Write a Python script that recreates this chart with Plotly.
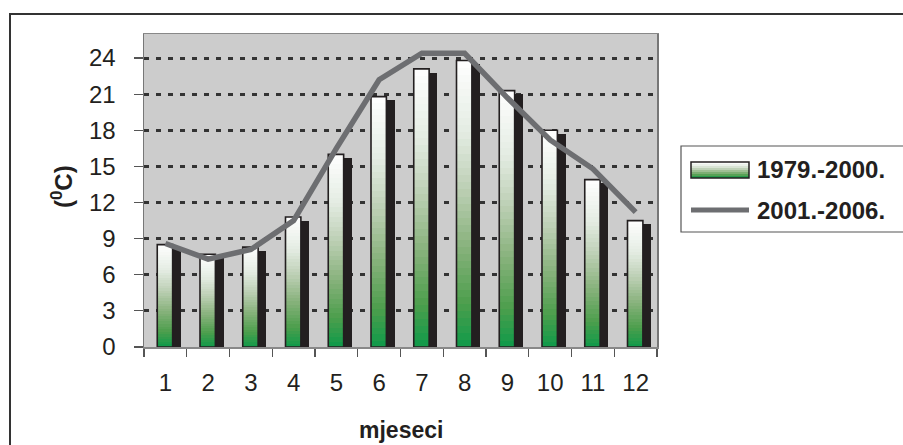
import plotly.graph_objects as go
from plotly.colors import sample_colorscale

# ---- data ----
months = ["1", "2", "3", "4", "5", "6", "7", "8", "9", "10", "11", "12"]
t_1979_2000 = [8.5, 7.7, 8.3, 10.8, 16.0, 20.8, 23.1, 23.8, 21.3, 18.0, 13.9, 10.5]
t_2001_2006 = [8.6, 7.3, 8.1, 10.5, 16.5, 22.2, 24.4, 24.4, 20.7, 17.2, 14.8, 11.2]
y_ticks = [0, 3, 6, 9, 12, 15, 18, 21, 24]
series_names = ["1979.-2000.", "2001.-2006."]
x_title = "mjeseci"
y_title = "(<sup>0</sup>C)"

# ---- style ----
FONT = "Liberation Sans, Arial, sans-serif"
TXT = "#231f20"
GRAD = [[0.0, "#0e9a4a"], [0.15, "#4c9e4c"], [0.35, "#88b27c"],
        [0.55, "#bccfb4"], [0.75, "#e4ece3"], [1.0, "#ffffff"]]
N_LAYERS = 40
FRONT_OFF, FRONT_W = -0.19, 0.36
SHADOW_OFF, SHADOW_W = -0.02, 0.38
SHADOW_DROP = 0.3
SHADOW_BASE = -0.12

L, R, T, B = 144, 657, 34, 347
W, H = 903, 445


def px(x):
    return (x - L) / (R - L)


def py(y):
    return (B - y) / (B - T)


fig = go.Figure()

# shadow bars
fig.add_trace(go.Bar(
    x=months, y=[v - SHADOW_DROP - SHADOW_BASE for v in t_1979_2000], base=SHADOW_BASE,
    offset=SHADOW_OFF, width=SHADOW_W,
    marker=dict(color="#231f20", line=dict(width=0)), showlegend=False, hoverinfo="skip"))

# gradient layers of front bars
layer_cols = sample_colorscale(GRAD, [(k + 0.5) / N_LAYERS for k in range(N_LAYERS)])
for k in range(N_LAYERS):
    fig.add_trace(go.Bar(
        x=months, y=[v / N_LAYERS * 1.02 for v in t_1979_2000],
        base=[v * k / N_LAYERS for v in t_1979_2000],
        offset=FRONT_OFF, width=FRONT_W,
        marker=dict(color=layer_cols[k], line=dict(width=0)),
        showlegend=False, hoverinfo="skip"))

# outline of front bars
fig.add_trace(go.Bar(
    x=months, y=t_1979_2000, offset=FRONT_OFF, width=FRONT_W, name=series_names[0],
    marker=dict(color="rgba(0,0,0,0)", line=dict(color="#231f20", width=1.6)),
    showlegend=False))

# line series
fig.add_trace(go.Scatter(
    x=months, y=t_2001_2006, mode="lines", name=series_names[1],
    line=dict(color="#6d6e71", width=5.5), showlegend=False))

shapes = []
# outer frame (runs off right/bottom edges)
shapes.append(dict(type="rect", xref="paper", yref="paper",
                   x0=px(10), x1=px(915), y0=py(460), y1=py(14),
                   line=dict(color="#333333", width=2), layer="below"))
# legend box
shapes.append(dict(type="rect", xref="paper", yref="paper",
                   x0=px(681), x1=px(915), y0=py(232), y1=py(146),
                   line=dict(color="#555555", width=1.2), fillcolor="white"))
# legend gradient swatch
n_sw = 8
sw_cols = sample_colorscale(GRAD, [(k + 0.5) / n_sw for k in range(n_sw)])
sw_top, sw_bot = 162, 178
for k in range(n_sw):
    y0 = sw_bot - (sw_bot - sw_top) * k / n_sw
    y1 = sw_bot - (sw_bot - sw_top) * (k + 1) / n_sw
    shapes.append(dict(type="rect", xref="paper", yref="paper",
                       x0=px(691), x1=px(749), y0=py(y0), y1=py(y1),
                       line=dict(width=0), fillcolor=sw_cols[k]))
shapes.append(dict(type="rect", xref="paper", yref="paper",
                   x0=px(691), x1=px(749), y0=py(sw_bot), y1=py(sw_top),
                   line=dict(color="#231f20", width=1.5)))
# legend line swatch
shapes.append(dict(type="line", xref="paper", yref="paper",
                   x0=px(691), x1=px(749), y0=py(210), y1=py(210),
                   line=dict(color="#6d6e71", width=5)))

annotations = [
    dict(text=series_names[0], xref="paper", yref="paper", x=px(755), y=py(169),
         xanchor="left", yanchor="middle", showarrow=False,
         font=dict(family=FONT, size=24, color=TXT, weight="bold")),
    dict(text=series_names[1], xref="paper", yref="paper", x=px(755), y=py(210),
         xanchor="left", yanchor="middle", showarrow=False,
         font=dict(family=FONT, size=24, color=TXT, weight="bold")),
    dict(text=x_title, xref="paper", yref="paper", x=0.5, y=py(430),
         xanchor="center", yanchor="middle", showarrow=False,
         font=dict(family=FONT, size=23, color=TXT, weight="bold")),
    dict(text=y_title, xref="paper", yref="paper", x=px(62), y=py(187),
         xanchor="center", yanchor="middle", showarrow=False, textangle=-90,
         font=dict(family=FONT, size=24, color=TXT, weight="bold")),
]

fig.update_layout(
    width=W, height=H,
    margin=dict(l=L, r=W - R, t=T, b=H - B, pad=0, autoexpand=False),
    paper_bgcolor="white", plot_bgcolor="#cccccc",
    barmode="overlay", bargap=0,
    showlegend=False,
    font=dict(family=FONT, size=24, color=TXT),
    shapes=shapes, annotations=annotations,
    xaxis=dict(
        type="category", categoryorder="array", categoryarray=months,
        range=[-0.5, 11.5], tickson="boundaries", ticks="outside", ticklen=8,
        tickcolor="#555555", tickwidth=1.2, showgrid=False,
        showline=True, linecolor="#888888", linewidth=1.5, mirror=True,
        ticklabelstandoff=14, tickfont=dict(family=FONT, size=24, color=TXT),
        fixedrange=True),
    yaxis=dict(
        range=[0, 26], tickvals=y_ticks, ticks="outside", ticklen=9,
        tickcolor="#555555", tickwidth=1.2, showgrid=False, zeroline=False,
        showline=True, linecolor="#777777", linewidth=1.5, mirror=True,
        ticklabelstandoff=13, tickfont=dict(family=FONT, size=24, color=TXT),
        minor=dict(tickvals=y_ticks[1:], showgrid=True, gridcolor="#333333",
                   gridwidth=3, griddash="5px,7px", ticks=""),
        fixedrange=True),
)

fig.write_html("out.html", config={"displayModeBar": False, "staticPlot": True},
               post_script="document.body.style.margin='0';document.body.style.overflow='hidden';")
